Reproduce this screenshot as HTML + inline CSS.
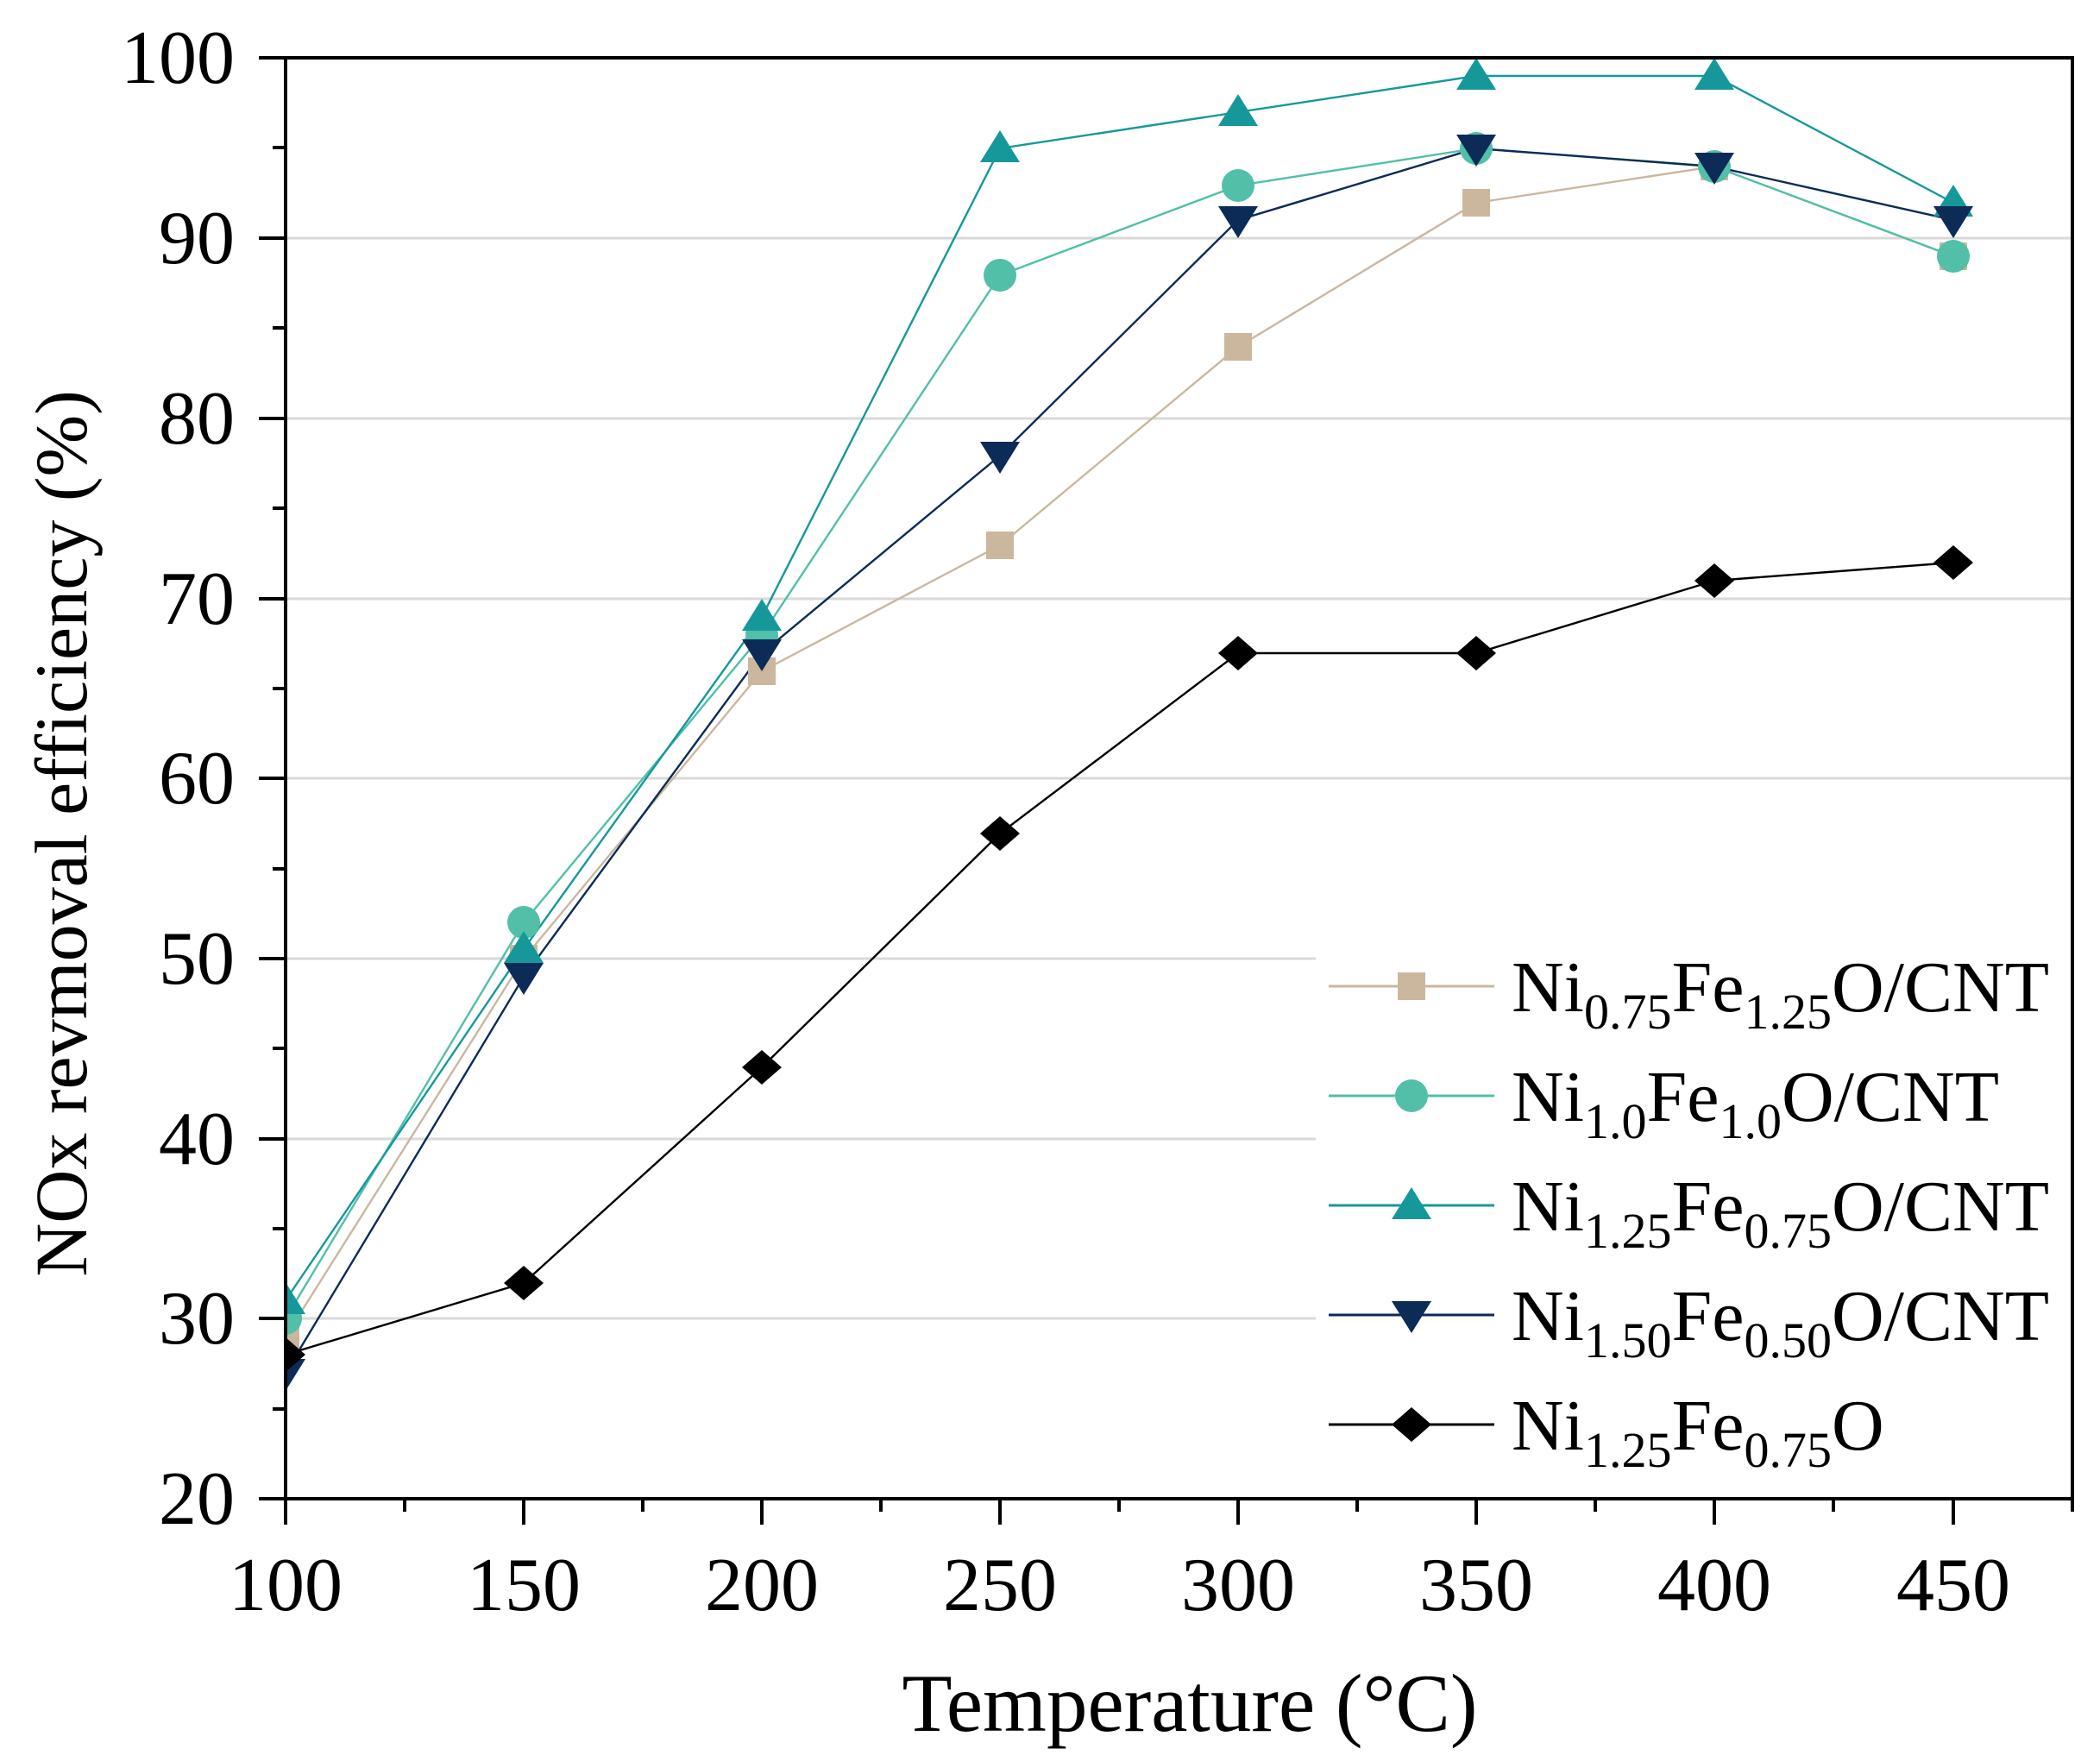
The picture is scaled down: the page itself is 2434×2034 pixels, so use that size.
<!DOCTYPE html>
<html><head><meta charset="utf-8"><style>
html,body{margin:0;padding:0;background:#fff;}
svg{display:block;}
text{font-family:"Liberation Serif",serif;fill:#000;}
</style></head><body>
<svg width="2434" height="2034" viewBox="0 0 2434 2034" xmlns="http://www.w3.org/2000/svg">
<defs>
<clipPath id="pc"><rect x="331" y="67" width="2071" height="1670"/></clipPath>
<g id="sq"><rect x="-16" y="-16" width="32" height="32"/></g>
<g id="ci"><circle r="19"/></g>
<g id="tu"><polygon points="0,-21 23,16 -23,16"/></g>
<g id="td"><polygon points="0,21 23,-16 -23,-16"/></g>
<g id="di"><polygon points="0,-20 23,0 0,20 -23,0"/></g>
</defs>
<g stroke="#d9d9d9" stroke-width="3">
<line x1="331" x2="2402" y1="276" y2="276"/>
<line x1="331" x2="2402" y1="485" y2="485"/>
<line x1="331" x2="2402" y1="694" y2="694"/>
<line x1="331" x2="2402" y1="902" y2="902"/>
<line x1="331" x2="2402" y1="1111" y2="1111"/>
<line x1="331" x2="2402" y1="1320" y2="1320"/>
<line x1="331" x2="2402" y1="1528" y2="1528"/>
</g>
<rect x="1525" y="1085" width="875" height="640" fill="#fff"/>
<g clip-path="url(#pc)" stroke-width="2.4" fill="none">
<polyline stroke="#cbb79e" points="331,1549 607,1111 883,778 1159,632 1435,402 1711,235 1987,193 2264,297"/>
<polyline stroke="#52bfa8" points="331,1528 607,1069 883,736 1159,319 1435,215 1711,172 1987,193 2264,297"/>
<polyline stroke="#16989b" points="331,1507 607,1100 883,715 1159,172 1435,130 1711,88 1987,88 2264,235"/>
<polyline stroke="#0c2b57" points="331,1591 607,1132 883,757 1159,528 1435,255 1711,172 1987,193 2264,255"/>
<polyline stroke="#000" points="331,1570 607,1487 883,1237 1159,966 1435,757 1711,757 1987,673 2264,652"/>
<g fill="#cbb79e" stroke="none">
<use href="#sq" x="331" y="1549"/><use href="#sq" x="607" y="1111"/><use href="#sq" x="883" y="778"/><use href="#sq" x="1159" y="632"/><use href="#sq" x="1435" y="402"/><use href="#sq" x="1711" y="235"/><use href="#sq" x="1987" y="193"/><use href="#sq" x="2264" y="297"/>
</g>
<g fill="#52bfa8" stroke="none">
<use href="#ci" x="331" y="1528"/><use href="#ci" x="607" y="1069"/><use href="#ci" x="883" y="736"/><use href="#ci" x="1159" y="319"/><use href="#ci" x="1435" y="215"/><use href="#ci" x="1711" y="172"/><use href="#ci" x="1987" y="193"/><use href="#ci" x="2264" y="297"/>
</g>
<g fill="#16989b" stroke="none">
<use href="#tu" x="331" y="1507"/><use href="#tu" x="607" y="1100"/><use href="#tu" x="883" y="715"/><use href="#tu" x="1159" y="172"/><use href="#tu" x="1435" y="130"/><use href="#tu" x="1711" y="88"/><use href="#tu" x="1987" y="88"/><use href="#tu" x="2264" y="235"/>
</g>
<g fill="#0c2b57" stroke="none">
<use href="#td" x="331" y="1591"/><use href="#td" x="607" y="1132"/><use href="#td" x="883" y="757"/><use href="#td" x="1159" y="528"/><use href="#td" x="1435" y="255"/><use href="#td" x="1711" y="172"/><use href="#td" x="1987" y="193"/><use href="#td" x="2264" y="255"/>
</g>
<g fill="#000" stroke="none">
<use href="#di" x="331" y="1570"/><use href="#di" x="607" y="1487"/><use href="#di" x="883" y="1237"/><use href="#di" x="1159" y="966"/><use href="#di" x="1435" y="757"/><use href="#di" x="1711" y="757"/><use href="#di" x="1987" y="673"/><use href="#di" x="2264" y="652"/>
</g>
</g>
<rect x="331" y="67" width="2071" height="1670" fill="none" stroke="#000" stroke-width="4"/>
<g stroke="#000" stroke-width="4">
<line x1="300" x2="331" y1="67" y2="67"/><line x1="300" x2="331" y1="276" y2="276"/><line x1="300" x2="331" y1="485" y2="485"/><line x1="300" x2="331" y1="694" y2="694"/><line x1="300" x2="331" y1="902" y2="902"/><line x1="300" x2="331" y1="1111" y2="1111"/><line x1="300" x2="331" y1="1320" y2="1320"/><line x1="300" x2="331" y1="1528" y2="1528"/><line x1="300" x2="331" y1="1737" y2="1737"/>
<line x1="316" x2="331" y1="171" y2="171"/><line x1="316" x2="331" y1="380" y2="380"/><line x1="316" x2="331" y1="589" y2="589"/><line x1="316" x2="331" y1="798" y2="798"/><line x1="316" x2="331" y1="1007" y2="1007"/><line x1="316" x2="331" y1="1215" y2="1215"/><line x1="316" x2="331" y1="1424" y2="1424"/><line x1="316" x2="331" y1="1633" y2="1633"/>
<line x1="331" x2="331" y1="1737" y2="1767"/><line x1="607" x2="607" y1="1737" y2="1767"/><line x1="883" x2="883" y1="1737" y2="1767"/><line x1="1159" x2="1159" y1="1737" y2="1767"/><line x1="1435" x2="1435" y1="1737" y2="1767"/><line x1="1711" x2="1711" y1="1737" y2="1767"/><line x1="1987" x2="1987" y1="1737" y2="1767"/><line x1="2264" x2="2264" y1="1737" y2="1767"/><line x1="2402" x2="2402" y1="1737" y2="1752"/>
<line x1="469" x2="469" y1="1737" y2="1752"/><line x1="745" x2="745" y1="1737" y2="1752"/><line x1="1021" x2="1021" y1="1737" y2="1752"/><line x1="1297" x2="1297" y1="1737" y2="1752"/><line x1="1573" x2="1573" y1="1737" y2="1752"/><line x1="1849" x2="1849" y1="1737" y2="1752"/><line x1="2125" x2="2125" y1="1737" y2="1752"/>
</g>
<g font-size="88" text-anchor="end">
<text x="272" y="96">100</text><text x="272" y="305">90</text><text x="272" y="514">80</text><text x="272" y="723">70</text><text x="272" y="931">60</text><text x="272" y="1140">50</text><text x="272" y="1349">40</text><text x="272" y="1557">30</text><text x="272" y="1766">20</text>
</g>
<g font-size="88" text-anchor="middle">
<text x="331" y="1866">100</text><text x="607" y="1866">150</text><text x="883" y="1866">200</text><text x="1159" y="1866">250</text><text x="1435" y="1866">300</text><text x="1711" y="1866">350</text><text x="1987" y="1866">400</text><text x="2264" y="1866">450</text>
</g>
<text x="1379" y="2006" font-size="95" text-anchor="middle">Temperature (°C)</text>
<text transform="translate(100,966) rotate(-90)" font-size="86" text-anchor="middle">NOx revmoval efficiency (%)</text>
<g stroke-width="3">
<line x1="1540" x2="1732" y1="1143" y2="1143" stroke="#cbb79e"/>
<line x1="1540" x2="1732" y1="1270" y2="1270" stroke="#52bfa8"/>
<line x1="1540" x2="1732" y1="1397" y2="1397" stroke="#16989b"/>
<line x1="1540" x2="1732" y1="1524" y2="1524" stroke="#0c2b57"/>
<line x1="1540" x2="1732" y1="1651" y2="1651" stroke="#000"/>
</g>
<use href="#sq" x="1636" y="1143" fill="#cbb79e"/>
<use href="#ci" x="1636" y="1270" fill="#52bfa8"/>
<use href="#tu" x="1636" y="1397" fill="#16989b"/>
<use href="#td" x="1636" y="1524" fill="#0c2b57"/>
<use href="#di" x="1636" y="1651" fill="#000"/>
<g font-size="84">
<text x="1752" y="1172">Ni<tspan font-size="58" dy="20">0.75</tspan><tspan dy="-20">Fe</tspan><tspan font-size="58" dy="20">1.25</tspan><tspan dy="-20">O/CNT</tspan></text>
<text x="1752" y="1299">Ni<tspan font-size="58" dy="20">1.0</tspan><tspan dy="-20">Fe</tspan><tspan font-size="58" dy="20">1.0</tspan><tspan dy="-20">O/CNT</tspan></text>
<text x="1752" y="1426">Ni<tspan font-size="58" dy="20">1.25</tspan><tspan dy="-20">Fe</tspan><tspan font-size="58" dy="20">0.75</tspan><tspan dy="-20">O/CNT</tspan></text>
<text x="1752" y="1553">Ni<tspan font-size="58" dy="20">1.50</tspan><tspan dy="-20">Fe</tspan><tspan font-size="58" dy="20">0.50</tspan><tspan dy="-20">O/CNT</tspan></text>
<text x="1752" y="1680">Ni<tspan font-size="58" dy="20">1.25</tspan><tspan dy="-20">Fe</tspan><tspan font-size="58" dy="20">0.75</tspan><tspan dy="-20">O</tspan></text>
</g>
</svg>
</body></html>
